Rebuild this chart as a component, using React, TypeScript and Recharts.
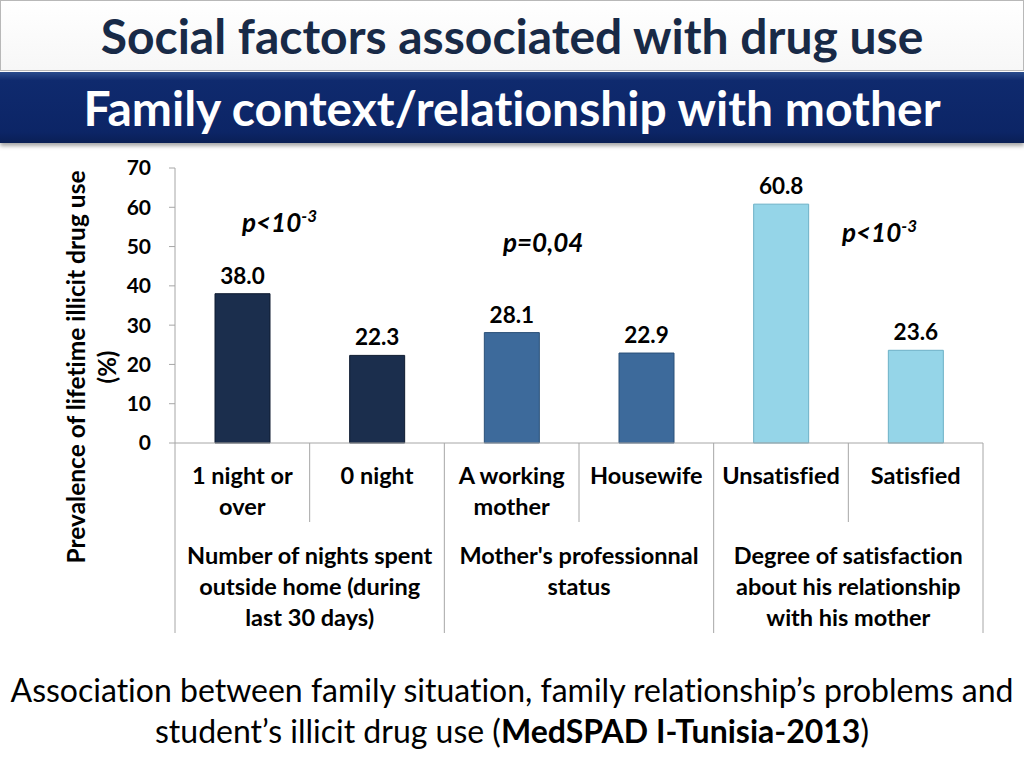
import React from "react";
import { BarChart, Bar, XAxis, YAxis, Cell, LabelList, Label } from "recharts";

const categoryLines: string[][] = [
  ["1 night or", "over"],
  ["0 night"],
  ["A working", "mother"],
  ["Housewife"],
  ["Unsatisfied"],
  ["Satisfied"],
];
const categories = ["1 night or over", "0 night", "A working mother", "Housewife", "Unsatisfied", "Satisfied"];
const values = [38.0, 22.3, 28.1, 22.9, 60.8, 23.6];
const groupLines: string[][] = [
  ["Number of nights spent", "outside home (during", "last 30 days)"],
  ["Mother's professionnal", "status"],
  ["Degree of satisfaction", "about his relationship", "with his mother"],
];
const yTicks = [0, 10, 20, 30, 40, 50, 60, 70];
const barColors = ["#1b2e4d", "#1b2e4d", "#3d6a9b", "#3d6a9b", "#95d5e8", "#95d5e8"];
const barStrokes = ["#0e1b30", "#0e1b30", "#2a5078", "#2a5078", "#6cb0c6", "#6cb0c6"];

const data = categories.map((c, i) => ({ name: c, value: values[i] }));

const W = 1024;
const H = 768;
const M_LEFT = 115;
const Y_W = 60;
const M_RIGHT = 41;
const M_TOP = 168;
const X_H = 325;
const BAND = (W - M_LEFT - Y_W - M_RIGHT) / categories.length;
const FONT = "Lato, 'Open Sans', sans-serif";
const GRID = "#a6a6a6";
const NOLIG: React.CSSProperties = { fontVariantLigatures: "none" };

function XTick(props: any) {
  const { x, y, payload } = props;
  const i: number = payload.index;
  const lines = categoryLines[i];
  const left = x - BAND / 2;
  const right = x + BAND / 2;
  const isGroupStart = i % 2 === 0;
  return (
    <g>
      <line x1={left} x2={left} y1={y} y2={y + (isGroupStart ? 190 : 79)} stroke={GRID} strokeWidth={1} />
      {i === categories.length - 1 && (
        <line x1={right} x2={right} y1={y} y2={y + 190} stroke={GRID} strokeWidth={1} />
      )}
      {lines.map((l, k) => (
        <text key={k} x={x} y={y + 41 + k * 31} textAnchor="middle" fontFamily={FONT} fontWeight={700} fontSize={23.5} fill="#000" style={NOLIG}>
          {l}
        </text>
      ))}
      {isGroupStart &&
        groupLines[i / 2].map((l, k) => (
          <text key={"g" + k} x={x + BAND / 2} y={y + 121 + k * 31} textAnchor="middle" fontFamily={FONT} fontWeight={700} fontSize={23.5} fill="#000" style={NOLIG}>
            {l}
          </text>
        ))}
    </g>
  );
}

function YTitle(props: any) {
  const cy = 367;
  return (
    <g>
      <text transform={`translate(85, ${cy}) rotate(-90)`} textAnchor="middle" fontFamily={FONT} fontWeight={700} fontSize={24.5} fill="#000" style={NOLIG}>
        Prevalence  of lifetime illicit drug use
      </text>
      <text transform={`translate(116, ${cy}) rotate(-90)`} textAnchor="middle" fontFamily={FONT} fontWeight={700} fontSize={24} fill="#000">
        (%)
      </text>
    </g>
  );
}

const pStyle: React.CSSProperties = {
  position: "absolute",
  fontFamily: FONT,
  fontStyle: "italic",
  fontWeight: 700,
  fontSize: 26,
  color: "#000",
  lineHeight: "28px",
  whiteSpace: "nowrap",
};

function PLess({ left, top }: { left: number; top: number }) {
  return (
    <div style={{ ...pStyle, left, top }}>
      p&lt;10<sup style={{ fontSize: 17, verticalAlign: "super", lineHeight: 0 }}>-3</sup>
    </div>
  );
}

export default function App() {
  return (
    <div style={{ position: "absolute", left: 0, top: 0, width: W, height: H, background: "#fff", overflow: "hidden", fontFamily: FONT, fontVariantLigatures: "none" }}>
      <BarChart width={W} height={H} data={data} margin={{ top: M_TOP, right: M_RIGHT, left: M_LEFT, bottom: 0 }} barSize={55}>
        <XAxis
          dataKey="name"
          height={X_H}
          interval={0}
          tickSize={0}
          tickMargin={0}
          tickLine={false}
          axisLine={{ stroke: GRID }}
          tick={<XTick />}
        />
        <YAxis
          width={Y_W}
          domain={[0, 70]}
          ticks={yTicks}
          interval={0}
          tickSize={6}
          tickMargin={18}
          axisLine={{ stroke: GRID }}
          tickLine={{ stroke: GRID }}
          tick={{ fontFamily: FONT, fontWeight: 700, fontSize: 21, fill: "#000" }}
        >
          <Label content={<YTitle />} />
        </YAxis>
        <Bar dataKey="value" isAnimationActive={false} strokeWidth={1}>
          {data.map((d, i) => (
            <Cell key={d.name} fill={barColors[i]} stroke={barStrokes[i]} />
          ))}
          <LabelList
            dataKey="value"
            position="top"
            offset={10}
            formatter={(v: any) => Number(v).toFixed(1)}
            style={{ fontFamily: FONT, fontWeight: 700, fontSize: 22.5, fill: "#000" }}
          />
        </Bar>
      </BarChart>

      {/* Title box */}
      <div
        style={{
          position: "absolute",
          left: 0,
          top: 0,
          width: W - 2,
          height: 69,
          border: "1px solid #b8b8b8",
          background: "linear-gradient(#ffffff, #f7f7f7)",
          display: "flex",
          alignItems: "center",
          justifyContent: "center",
          color: "#182a47",
          fontWeight: 700,
          fontSize: 48,
          lineHeight: "69px",
          whiteSpace: "nowrap",
        }}
      >
        Social factors associated with drug use
      </div>
      {/* Banner */}
      <div
        style={{
          position: "absolute",
          left: 0,
          top: 72,
          width: W,
          height: 71,
          background: "linear-gradient(#2a4c8c 0%, #0f2a6e 12%, #0c2566 85%, #0a1f55 100%)",
          boxShadow: "0 3px 4px rgba(0,0,0,0.35)",
          display: "flex",
          alignItems: "center",
          justifyContent: "center",
          color: "#fff",
          fontWeight: 700,
          fontSize: 48,
          lineHeight: "71px",
          whiteSpace: "nowrap",
        }}
      >
        Family context/relationship with mother
      </div>

      <PLess left={242} top={208} />
      <div style={{ ...pStyle, left: 503, top: 228 }}>p=0,04</div>
      <PLess left={842} top={218} />

      {/* Caption */}
      <div
        style={{
          position: "absolute",
          left: 0,
          top: 669,
          width: W,
          textAlign: "center",
          fontWeight: 400,
          fontSize: 32,
          lineHeight: "41px",
          color: "#000",
          whiteSpace: "nowrap",
        }}
      >
        <div>Association between family situation, family relationship’s problems and</div>
        <div>
          student’s illicit drug use (<b>MedSPAD I-Tunisia-2013</b>)
        </div>
      </div>
    </div>
  );
}
